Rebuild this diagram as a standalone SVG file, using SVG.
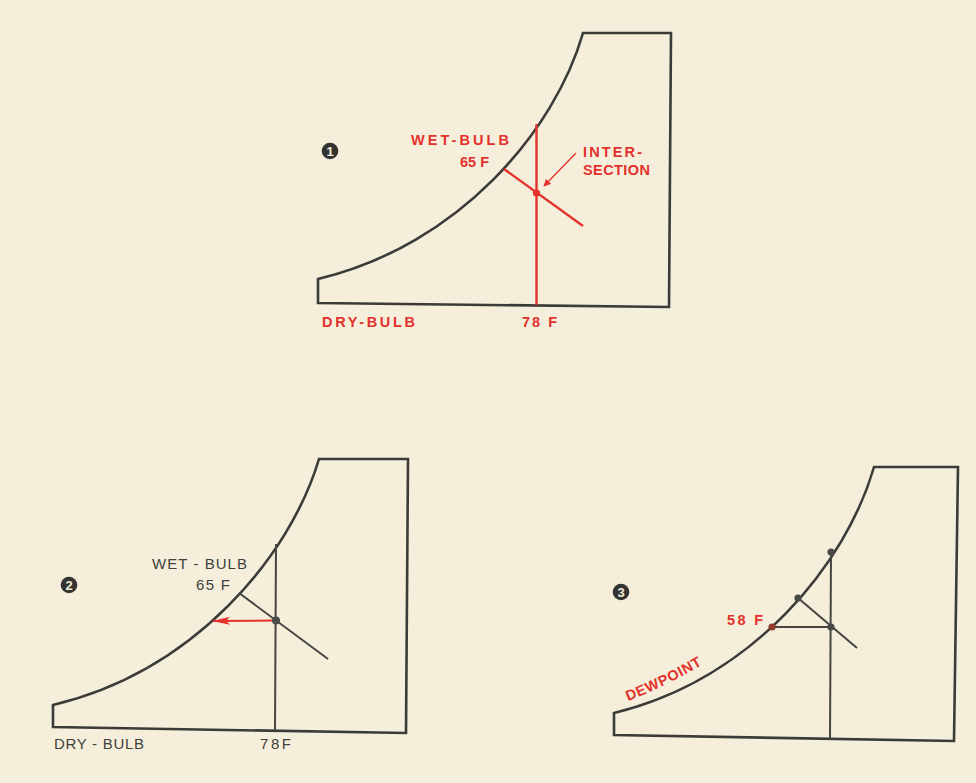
<svg xmlns="http://www.w3.org/2000/svg" width="976" height="783" viewBox="0 0 976 783">
<defs>
<style>
.outline{fill:none;stroke:#3b3b38;stroke-width:2.6;stroke-linejoin:miter}
.ln{fill:none;stroke:#454542;stroke-width:2}
.rl{fill:none;stroke:#e3312b;stroke-width:2.4}
.lbl{font-family:"Liberation Sans",Arial,sans-serif;font-size:14.5px;font-weight:bold}
.red{fill:#e3312b}
.dark{fill:#3f3f3c;font-weight:normal;font-size:15px}
.num{font-family:"Liberation Sans",Arial,sans-serif;font-size:13px;font-weight:bold;fill:#f5eedb;text-anchor:middle}
</style>
<marker id="ah" viewBox="0 0 10 10" refX="9" refY="5" markerWidth="6.5" markerHeight="5.5" orient="auto" markerUnits="strokeWidth">
<path d="M0,0 L10,5 L0,10 Z" fill="#e3312b"/>
</marker>
<marker id="ah2" viewBox="0 0 18 8" refX="17" refY="4" markerWidth="9" markerHeight="4" orient="auto" markerUnits="strokeWidth">
<path d="M0,0 L18,4 L0,8 L4,4 Z" fill="#e3312b"/>
</marker>
<path id="dewpath" d="M628,701 Q667,686 709,661"/>
</defs>
<rect width="976" height="783" fill="#f5eedb"/>

<g id="chart1">
<path class="outline" d="M318,279 C460,245 555,130 583,33 L671,33 L669,307 L318,303 Z"/>
<g id="num1"><circle cx="330" cy="151" r="8.3" fill="#333331"/><text class="num" x="330" y="155.5">1</text></g>
<text class="lbl red" x="411" y="145" textLength="98" lengthAdjust="spacing">WET-BULB</text>
<text class="lbl red" x="460" y="167" textLength="29" lengthAdjust="spacing">65 F</text>
<text class="lbl red" x="583" y="157" textLength="59" lengthAdjust="spacing">INTER-</text>
<text class="lbl red" x="583" y="175" textLength="67" lengthAdjust="spacing">SECTION</text>
<text class="lbl red" x="322" y="327" textLength="93" lengthAdjust="spacing">DRY-BULB</text>
<text class="lbl red" x="522" y="327" textLength="35" lengthAdjust="spacing">78 F</text>
</g>

<g id="chart2">
<path class="outline" d="M53,705 C195,671 290,556 319,459 L408,459 L406,733 L53,727 Z"/>
<g id="num2"><circle cx="69" cy="585" r="8.3" fill="#333331"/><text class="num" x="69" y="589.5">2</text></g>
<text class="lbl dark" x="152" y="569" textLength="95" lengthAdjust="spacing">WET - BULB</text>
<text class="lbl dark" x="196" y="590" textLength="34" lengthAdjust="spacing">65 F</text>
<text class="lbl dark" x="54" y="749" textLength="90" lengthAdjust="spacing">DRY - BULB</text>
<text class="lbl dark" x="260" y="749" textLength="31" lengthAdjust="spacing">78F</text>
</g>

<g id="chart3">
<path class="outline" d="M614,713 C753,679 846,564 874,467 L958,467 L954,741 L614,735 Z"/>
<g id="num3"><circle cx="621" cy="592" r="8.3" fill="#333331"/><text class="num" x="621" y="596.5">3</text></g>
<text class="lbl red" x="727" y="625" textLength="36" lengthAdjust="spacing">58 F</text>
<text class="lbl red" font-size="13.5px"><textPath href="#dewpath" textLength="83" lengthAdjust="spacing">DEWPOINT</textPath></text>
</g>

<g id="connectors">
<line class="rl" x1="536.5" y1="124" x2="536.5" y2="305"/>
<line class="rl" x1="504" y1="169" x2="583" y2="226"/>
<circle cx="536.5" cy="193" r="3.6" fill="#e3312b"/>
<line x1="576" y1="153" x2="544" y2="186" stroke="#e3312b" stroke-width="1.3" marker-end="url(#ah)"/>

<line class="ln" x1="276" y1="544" x2="275" y2="730"/>
<line class="ln" x1="239" y1="593" x2="328" y2="659"/>
<line x1="273" y1="620.5" x2="213" y2="621" stroke="#e3312b" stroke-width="2" marker-end="url(#ah2)"/>
<circle cx="276" cy="620.5" r="4" fill="#4a4a47"/>

<line class="ln" x1="831" y1="552" x2="830" y2="739"/>
<line class="ln" x1="798" y1="598" x2="857" y2="648"/>
<line class="ln" x1="772" y1="627" x2="831" y2="627"/>
<circle cx="831" cy="552" r="3.6" fill="#4a4a47"/>
<circle cx="798" cy="598" r="3.6" fill="#4a4a47"/>
<circle cx="831" cy="627" r="3.6" fill="#4a4a47"/>
<circle cx="772" cy="627" r="3.6" fill="#8e3a2e"/>
</g>
</svg>
